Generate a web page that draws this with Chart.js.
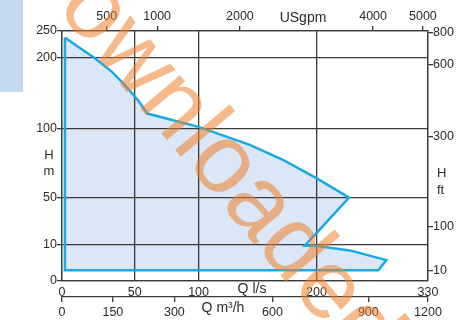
<!DOCTYPE html>
<html>
<head>
<meta charset="utf-8">
<script src="https://cdn.jsdelivr.net/npm/chart.js@4.4.0/dist/chart.umd.min.js"></script>
<style>
  html, body { margin: 0; padding: 0; background: #fff; }
  #wrap { width: 456px; height: 320px; }
</style>
</head>
<body>
<div id="wrap"><canvas id="pumpChart" width="456" height="320"></canvas></div>
<script>
// Campo di funzionamento: portata (l/s) e prevalenza (m)
const flowLs = [2, 11, 22.5, 34, 43, 52.6, 60, 100, 143.5, 172, 200, 238, 200, 190, 199, 239, 281.5, 272, 2, 2];
const headM  = [238, 221, 200, 181, 162, 140, 121, 102, 88, 77, 64, 50, 20, 9.8, 9.8, 8.5, 5.8, 3, 3, 238];

// Etichette degli assi
const ticksLs  = [0, 50, 100, 200, 330];
const ticksM3h = [0, 150, 300, 600, 900, 1200];
const ticksGpm = [500, 1000, 2000, 4000, 5000];
const ticksM   = [0, 10, 50, 100, 200, 250];
const ticksFt  = [10, 100, 300, 600, 800];

const textColor = '#2b2b2b';
const lineColor = '#3a3a3a';
const tickFont = { family: '"Liberation Sans", Arial, sans-serif', size: 12.5 };

// Scala lineare a tratti (il grafico originale non ha assi lineari)
class PiecewiseScale extends Chart.LinearScale {
    static id = 'piecewise';
    static defaults = Chart.LinearScale.defaults;

    toDecimal(v) {
        const kv = this.options.knotVals, kp = this.options.knotPos;
        if (v <= kv[0]) return kp[0];
        for (let i = 1; i < kv.length; i++) {
            if (v <= kv[i] || i === kv.length - 1) {
                return kp[i - 1] + (v - kv[i - 1]) / (kv[i] - kv[i - 1]) * (kp[i] - kp[i - 1]);
            }
        }
    }
    getPixelForValue(v) {
        if (v === null || v === undefined) return NaN;
        return this.getPixelForDecimal(this.toDecimal(v));
    }
    getValueForPixel(p) {
        const d = this.getDecimalForPixel(p);
        const kv = this.options.knotVals, kp = this.options.knotPos;
        for (let i = 1; i < kp.length; i++) {
            if (d <= kp[i] || i === kp.length - 1) {
                return kv[i - 1] + (d - kp[i - 1]) / (kp[i] - kp[i - 1]) * (kv[i] - kv[i - 1]);
            }
        }
    }
}
Chart.register(PiecewiseScale);

function fixedTicks(values) {
    return scale => { scale.ticks = values.map(v => ({ value: v })); };
}

// Sfondo azzurro in alto a sinistra
const cornerBox = {
    id: 'cornerBox',
    beforeDraw(chart) {
        const ctx = chart.ctx;
        ctx.save();
        ctx.fillStyle = '#c2d9f1';
        ctx.fillRect(0, 0, 23, 92);
        ctx.restore();
    }
};

// Titoli degli assi
const axisTitles = {
    id: 'axisTitles',
    afterDraw(chart) {
        const ctx = chart.ctx;
        ctx.save();
        ctx.fillStyle = textColor;
        ctx.textBaseline = 'middle';
        ctx.textAlign = 'center';
        ctx.font = '14px "Liberation Sans", Arial, sans-serif';
        ctx.fillText('USgpm', 303, 18);
        ctx.fillText('Q l/s', 252, 289);
        ctx.fillText('Q m³/h', 223, 308);
        ctx.font = '13px "Liberation Sans", Arial, sans-serif';
        ctx.fillText('H', 49, 155);
        ctx.fillText('m', 49, 171);
        ctx.textAlign = 'left';
        ctx.fillText('H', 437, 173);
        ctx.fillText('ft', 437, 190);
        ctx.restore();
    }
};

// Filigrana arancione
const watermark = {
    id: 'watermark',
    afterDraw(chart) {
        const ctx = chart.ctx;
        ctx.save();
        ctx.translate(10, -47);
        ctx.rotate(50 * Math.PI / 180);
        ctx.font = '98px "Liberation Sans", Arial, sans-serif';
        ctx.fillStyle = 'rgba(238, 128, 40, 0.55)';
        ctx.textBaseline = 'alphabetic';
        ctx.fillText('Downloaded from', 0, 0);
        ctx.restore();
    }
};

const gridLine = { color: lineColor, lineWidth: 1.3 };

new Chart(document.getElementById('pumpChart'), {
    type: 'line',
    data: {
        datasets: [{
            data: flowLs.map((q, i) => ({ x: q, y: headM[i] })),
            borderColor: '#1ba9e2',
            borderWidth: 2.5,
            backgroundColor: '#dbe7f6',
            fill: 'shape',
            pointRadius: 0,
            tension: 0
        }]
    },
    options: {
        responsive: false,
        animation: false,
        devicePixelRatio: 1,
        layout: { padding: 0 },
        plugins: {
            legend: { display: false },
            tooltip: { enabled: false },
            filler: { drawTime: 'beforeDraw' }
        },
        scales: {
            x: {
                type: 'piecewise', position: 'bottom', weight: 0,
                min: 0, max: 330,
                knotVals: [0, 50, 100, 200, 330],
                knotPos: [0, 0.1985, 0.3732, 0.6952, 1],
                afterBuildTicks: fixedTicks(ticksLs),
                afterFit: s => { s.height = 16; },
                grid: { ...gridLine, drawTicks: false },
                border: { color: lineColor, width: 1.3 },
                ticks: { font: tickFont, color: textColor, padding: 4, autoSkip: false, maxRotation: 0, callback: v => String(v) }
            },
            xM3h: {
                type: 'piecewise', position: 'bottom', weight: 1,
                min: 0, max: 1200,
                knotVals: [0, 150, 300, 600, 900, 1200],
                knotPos: [0, 0.139, 0.307, 0.575, 0.837, 1],
                afterBuildTicks: fixedTicks(ticksM3h),
                afterFit: s => { s.height = 23; },
                grid: { ...gridLine, drawOnChartArea: false, tickLength: 5 },
                border: { color: lineColor, width: 1.3 },
                ticks: { font: tickFont, color: textColor, padding: 3, autoSkip: false, maxRotation: 0, callback: v => String(v) }
            },
            xGpm: {
                type: 'piecewise', position: 'top',
                min: 0, max: 5100,
                knotVals: [0, 500, 1000, 2000, 4000, 5000, 5100],
                knotPos: [0, 0.122, 0.260, 0.486, 0.850, 0.986, 1],
                afterBuildTicks: fixedTicks(ticksGpm),
                afterFit: s => { s.height = 31; },
                grid: { ...gridLine, drawOnChartArea: false, tickLength: 5 },
                border: { color: lineColor, width: 1.3 },
                ticks: { font: tickFont, color: textColor, padding: 2, autoSkip: false, maxRotation: 0, callback: v => String(v) }
            },
            y: {
                type: 'piecewise', position: 'left',
                min: 0, max: 250,
                knotVals: [0, 10, 50, 100, 200, 250],
                knotPos: [0, 0.144, 0.3336, 0.6108, 0.892, 1],
                afterBuildTicks: fixedTicks(ticksM),
                afterFit: s => { s.width = 62; },
                grid: { ...gridLine, tickLength: 5 },
                border: { color: lineColor, width: 1.3 },
                ticks: { font: tickFont, color: textColor, padding: 0, autoSkip: false, callback: v => String(v) }
            },
            yFt: {
                type: 'piecewise', position: 'right',
                min: 0, max: 810,
                knotVals: [0, 10, 100, 300, 600, 800, 810],
                knotPos: [0, 0.04, 0.2188, 0.576, 0.8668, 0.9936, 1],
                afterBuildTicks: fixedTicks(ticksFt),
                afterFit: s => { s.width = 28; },
                grid: { ...gridLine, drawOnChartArea: false, tickLength: 5 },
                border: { color: lineColor, width: 1.3 },
                ticks: { font: tickFont, color: textColor, padding: 0, autoSkip: false, callback: v => String(v) }
            }
        }
    },
    plugins: [cornerBox, axisTitles, watermark]
});
</script>
</body>
</html>
